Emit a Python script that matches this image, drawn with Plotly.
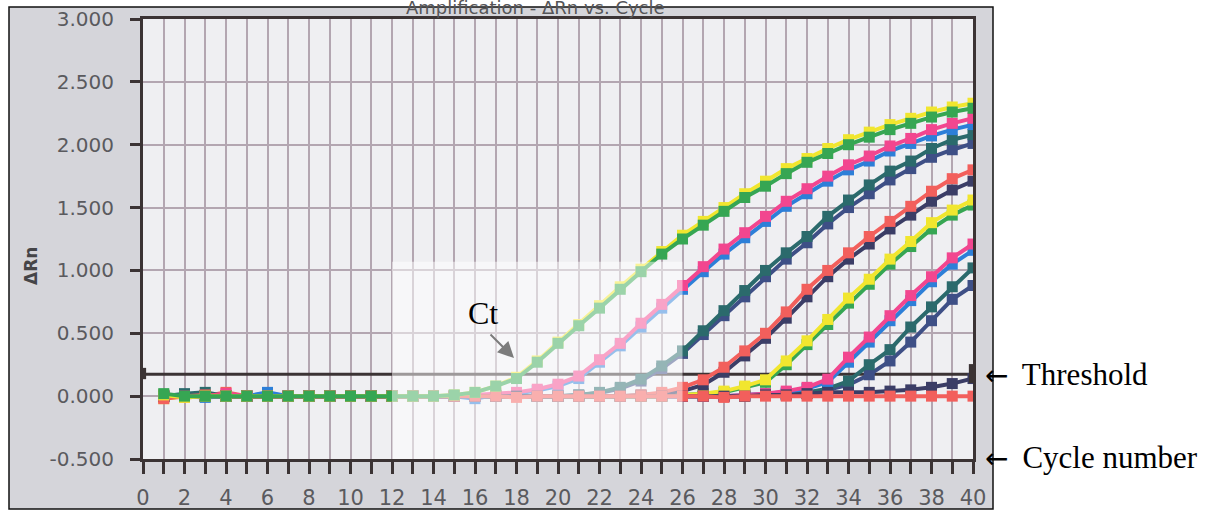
import plotly.graph_objects as go

# Cycle numbers and the normalised reporter signal (delta Rn) for each well
cycles = list(range(1, 41))

a_yellow = [0.01, -0.01, 0.0, 0.0, 0.0, 0.0, 0.0, 0.0, 0.0, 0.0, 0.0, 0.0, 0.0, 0.0, 0.01, 0.03, 0.08, 0.15, 0.28, 0.43,
            0.57, 0.72, 0.87, 1.01, 1.15, 1.28, 1.39, 1.50, 1.61, 1.71, 1.81, 1.89, 1.97, 2.04, 2.10, 2.16, 2.21, 2.26, 2.30, 2.33]
a_green = [0.02, 0.0, 0.0, 0.0, 0.0, 0.0, 0.0, 0.0, 0.0, 0.0, 0.0, 0.0, 0.0, 0.0, 0.01, 0.03, 0.08, 0.14, 0.27, 0.42,
           0.56, 0.70, 0.85, 0.99, 1.13, 1.25, 1.36, 1.47, 1.58, 1.67, 1.77, 1.86, 1.93, 2.00, 2.06, 2.12, 2.17, 2.22, 2.26, 2.29]

b_pink = [0.0, -0.01, 0.0, 0.02, 0.0, 0.0, 0.0, 0.0, 0.0, 0.0, 0.0, 0.0, 0.0, 0.0, 0.0, 0.01, 0.02, 0.03, 0.055, 0.095,
          0.16, 0.29, 0.42, 0.58, 0.73, 0.88, 1.03, 1.17, 1.30, 1.43, 1.55, 1.65, 1.75, 1.84, 1.91, 1.99, 2.05, 2.12, 2.17, 2.21]
b_blue = [0.01, 0.0, -0.01, 0.0, 0.0, 0.03, 0.0, 0.0, 0.0, 0.0, 0.0, 0.0, 0.0, 0.0, 0.0, -0.02, 0.01, 0.02, 0.045, 0.08,
          0.14, 0.27, 0.40, 0.55, 0.70, 0.85, 0.99, 1.13, 1.26, 1.39, 1.51, 1.61, 1.71, 1.80, 1.87, 1.95, 2.01, 2.07, 2.12, 2.16]

c_teal = [0.0, 0.02, 0.03, 0.0, 0.0, 0.0, 0.0, 0.0, 0.0, 0.0, 0.0, 0.0, 0.0, 0.0, 0.0, 0.0, 0.0, 0.0, 0.0, 0.0,
          0.01, 0.03, 0.07, 0.135, 0.24, 0.36, 0.52, 0.68, 0.84, 1.00, 1.14, 1.27, 1.43, 1.56, 1.68, 1.79, 1.87, 1.97, 2.04, 2.08]
c_slate = [0.0, 0.0, 0.0, 0.0, 0.0, 0.0, 0.0, 0.0, 0.0, 0.0, 0.0, 0.0, 0.0, 0.0, 0.0, 0.0, 0.0, 0.0, 0.0, 0.0,
           0.01, 0.025, 0.06, 0.12, 0.22, 0.34, 0.49, 0.64, 0.79, 0.95, 1.09, 1.22, 1.37, 1.50, 1.61, 1.72, 1.81, 1.90, 1.96, 2.01]

d_red = [-0.02, 0.0, 0.0, 0.03, 0.0, 0.0, 0.0, 0.0, 0.0, 0.0, 0.0, 0.0, 0.0, 0.0, 0.0, 0.0, 0.0, 0.0, 0.0, 0.0,
         0.0, 0.0, 0.0, 0.01, 0.03, 0.07, 0.13, 0.23, 0.36, 0.50, 0.67, 0.85, 1.00, 1.14, 1.27, 1.39, 1.51, 1.63, 1.73, 1.80]
d_navy = [0.0, 0.0, 0.0, 0.0, 0.0, 0.0, 0.0, 0.0, 0.0, 0.0, 0.0, 0.0, 0.0, 0.0, 0.0, 0.0, 0.0, 0.0, 0.0, 0.0,
          0.0, 0.0, 0.0, 0.01, 0.02, 0.04, 0.09, 0.19, 0.32, 0.46, 0.62, 0.79, 0.95, 1.09, 1.21, 1.33, 1.44, 1.55, 1.64, 1.71]

e_yellow = [-0.02, 0.0, 0.0, 0.0, 0.0, 0.0, 0.0, 0.0, 0.0, 0.0, 0.0, 0.0, 0.0, 0.0, 0.0, 0.0, 0.0, 0.0, 0.0, 0.0,
            0.0, 0.0, 0.0, 0.0, 0.0, 0.01, 0.02, 0.04, 0.08, 0.13, 0.28, 0.44, 0.61, 0.78, 0.93, 1.09, 1.23, 1.38, 1.48, 1.56]
e_green = [0.0, 0.0, 0.0, 0.0, 0.0, 0.0, 0.0, 0.0, 0.0, 0.0, 0.0, 0.0, 0.0, 0.0, 0.0, 0.0, 0.0, 0.0, 0.0, 0.0,
           0.0, 0.0, 0.0, 0.0, 0.0, 0.01, 0.02, 0.03, 0.07, 0.11, 0.25, 0.41, 0.57, 0.74, 0.89, 1.05, 1.19, 1.33, 1.44, 1.52]

f_pink = [0.0, 0.0, 0.0, 0.0, 0.0, 0.0, 0.0, 0.0, 0.0, 0.0, 0.0, 0.0, 0.0, 0.0, 0.0, 0.0, 0.0, 0.0, 0.0, 0.0,
          0.0, 0.0, 0.0, 0.0, 0.0, 0.0, 0.0, 0.0, 0.01, 0.02, 0.04, 0.07, 0.135, 0.31, 0.47, 0.64, 0.80, 0.95, 1.10, 1.21]
f_blue = [0.0, 0.0, 0.0, 0.0, 0.0, 0.02, 0.0, 0.0, 0.0, 0.0, 0.0, 0.0, 0.0, 0.0, 0.0, 0.0, 0.0, 0.0, 0.0, 0.0,
          0.0, 0.0, 0.0, 0.0, 0.0, 0.0, 0.0, 0.0, 0.01, 0.02, 0.03, 0.06, 0.11, 0.27, 0.43, 0.60, 0.76, 0.91, 1.05, 1.16]

g_teal = [0.0, 0.0, 0.0, 0.0, 0.0, 0.0, 0.0, 0.0, 0.0, 0.0, 0.0, 0.0, 0.0, 0.0, 0.0, 0.0, 0.0, 0.0, 0.0, 0.0,
          0.0, 0.0, 0.0, 0.0, 0.0, 0.0, 0.0, 0.0, 0.0, 0.01, 0.02, 0.03, 0.06, 0.12, 0.25, 0.37, 0.55, 0.71, 0.87, 1.02]
g_slate = [0.0, 0.0, 0.0, 0.0, 0.0, 0.0, 0.0, 0.0, 0.0, 0.0, 0.0, 0.0, 0.0, 0.0, 0.0, 0.0, 0.0, 0.0, 0.0, 0.0,
           0.0, 0.0, 0.0, 0.0, 0.0, 0.0, 0.0, 0.0, 0.0, 0.01, 0.01, 0.02, 0.05, 0.09, 0.17, 0.28, 0.43, 0.60, 0.77, 0.88]

h_navy = [0.0, 0.0, 0.0, 0.0, 0.0, 0.0, 0.0, 0.0, 0.0, 0.0, 0.0, 0.0, 0.0, 0.0, 0.0, 0.0, 0.0, 0.0, 0.0, 0.0,
          0.0, 0.0, 0.0, 0.0, 0.0, 0.0, 0.0, 0.0, 0.0, 0.01, 0.01, 0.02, 0.03, 0.03, 0.03, 0.04, 0.05, 0.07, 0.10, 0.14]
ntc_red = [-0.01, 0.0, 0.01, 0.0, 0.0, 0.0, 0.0, 0.0, 0.0, 0.0, 0.0, 0.0, 0.0, 0.0, 0.0, 0.0, 0.0, -0.01, 0.0, 0.0,
           0.0, 0.0, 0.0, 0.0, 0.0, 0.0, 0.0, -0.01, 0.0, 0.0, 0.0, 0.0, 0.0, 0.0, 0.0, 0.0, 0.0, 0.0, 0.0, 0.0]

THRESHOLD = 0.175

y_ticks = [-0.5, 0.0, 0.5, 1.0, 1.5, 2.0, 2.5, 3.0]
y_labels = ["-0.500", "0.000", "0.500", "1.000", "1.500", "2.000", "2.500", "3.000"]
x_ticks = list(range(0, 41))
x_labels = [str(v) if v % 2 == 0 else "" for v in x_ticks]

YELLOW = "#f1e62f"
GREEN = "#36a653"
PINK = "#f2468f"
BLUE = "#2d7fd8"
TEAL = "#2b6a6c"
SLATE = "#3e4f86"
RED = "#f25f5c"
NAVY = "#3b3d66"
DARK = "#3b3334"

# drawing order: bottom first
wells = [
    (g_slate, SLATE), (g_teal, TEAL),
    (f_blue, BLUE), (f_pink, PINK),
    (e_green, GREEN), (e_yellow, YELLOW),
    (d_navy, NAVY), (d_red, RED),
    (c_slate, SLATE), (c_teal, TEAL),
    (b_blue, BLUE), (b_pink, PINK),
    (h_navy, NAVY), (ntc_red, RED),
    (a_yellow, YELLOW), (a_green, GREEN),
]

fig = go.Figure()

# threshold line sits beneath the amplification curves
fig.add_trace(go.Scatter(x=[0, 40], y=[THRESHOLD, THRESHOLD], mode="lines",
                         line=dict(color=DARK, width=3), hoverinfo="skip", showlegend=False))

for values, colour in wells:
    fig.add_trace(go.Scatter(
        x=cycles, y=values, mode="lines+markers",
        line=dict(color=colour, width=4),
        marker=dict(symbol="square", size=11, color=colour, line=dict(width=0)),
        showlegend=False, hoverinfo="skip",
    ))

L, R, T, B = 143, 244, 19, 52
W, H = 1217, 511
PW, PH = W - L - R, H - T - B


def px(xp):
    return (xp - L) / PW


def py(yp):
    return (H - B - yp) / PH


shapes = [
    # scanned page frame
    dict(type="rect", xref="paper", yref="paper", x0=px(9), x1=px(993), y0=py(509), y1=py(7),
         fillcolor="#d5d5da", line=dict(color="#111111", width=1.5), layer="below"),
    # plotting area
    dict(type="rect", xref="paper", yref="paper", x0=0, x1=1, y0=0, y1=1,
         fillcolor="#efeff2", line=dict(width=0), layer="below"),
    # threshold drag handles
    dict(type="rect", xref="x", yref="y", x0=-0.1, x1=0.15, y0=THRESHOLD - 0.04, y1=THRESHOLD + 0.05,
         fillcolor=DARK, line=dict(width=0), layer="above"),
    dict(type="rect", xref="x", yref="y", x0=39.8, x1=40.15, y0=THRESHOLD - 0.07, y1=THRESHOLD + 0.08,
         fillcolor=DARK, line=dict(width=0), layer="above"),
    # translucent callout box around the Ct region
    dict(type="rect", xref="x", yref="y", x0=12, x1=26, y0=-0.5, y1=1.07,
         fillcolor="rgba(255,255,255,0.5)", line=dict(width=0), layer="above"),
]

serif = "Liberation Serif, Times New Roman, serif"
arrow = '<span style="font-family:DejaVu Sans;font-size:28px">\u2190</span>'
annotations = [
    dict(text="Amplification - \u0394Rn vs. Cycle", xref="paper", yref="paper", x=px(535), y=py(20),
         xanchor="center", yanchor="bottom", showarrow=False,
         font=dict(family="DejaVu Sans", size=18, color="#555558")),
    dict(text="<b>\u0394Rn</b>", xref="paper", yref="paper", x=px(31), y=py(266), textangle=-90,
         xanchor="center", yanchor="middle", showarrow=False,
         font=dict(family="DejaVu Sans", size=17, color="#454548")),
    dict(text="Ct", xref="paper", yref="paper", x=px(483), y=py(313), xanchor="center", yanchor="middle",
         showarrow=False, font=dict(family=serif, size=32, color="#000000")),
    dict(text="", xref="paper", yref="paper", x=px(514), y=py(358), ax=-25, ay=-25,
         showarrow=True, arrowhead=2, arrowsize=1.6, arrowwidth=2, arrowcolor="#7c7c7c"),
    dict(text=arrow + "\u2009 Threshold", xref="paper", yref="paper", x=px(983), y=py(374), xanchor="left",
         yanchor="middle", showarrow=False, font=dict(family=serif, size=31, color="#000000")),
    dict(text=arrow + "\u2009 Cycle number", xref="paper", yref="paper", x=px(983), y=py(457), xanchor="left",
         yanchor="middle", showarrow=False, font=dict(family=serif, size=31, color="#000000")),
]

fig.update_layout(
    template="none",
    width=W, height=H,
    margin=dict(l=L, r=R, t=T, b=B, pad=0, autoexpand=False),
    paper_bgcolor="#ffffff",
    plot_bgcolor="rgba(0,0,0,0)",
    shapes=shapes,
    annotations=annotations,
    showlegend=False,
)

fig.update_xaxes(
    range=[0, 40], tickmode="array", tickvals=x_ticks, ticktext=x_labels,
    showgrid=True, gridcolor="#b3a6b1", gridwidth=2, zeroline=False,
    showline=True, linecolor=DARK, linewidth=3, mirror=True, automargin=False,
    ticks="outside", ticklen=12, tickwidth=3, tickcolor=DARK,
    ticklabelstandoff=6,
    tickfont=dict(family="DejaVu Sans", size=21, color="#5a5a5e"),
)
fig.update_yaxes(
    range=[-0.5, 3.0], tickmode="array", tickvals=y_ticks, ticktext=y_labels,
    showgrid=True, gridcolor="#b3a6b1", gridwidth=2, zeroline=False,
    showline=True, linecolor=DARK, linewidth=3, mirror=True, automargin=False,
    ticks="outside", ticklen=10, tickwidth=3, tickcolor=DARK,
    ticklabelstandoff=12,
    tickfont=dict(family="DejaVu Sans", size=20, color="#5a5a5e"),
)

fig.write_html("out.html")
